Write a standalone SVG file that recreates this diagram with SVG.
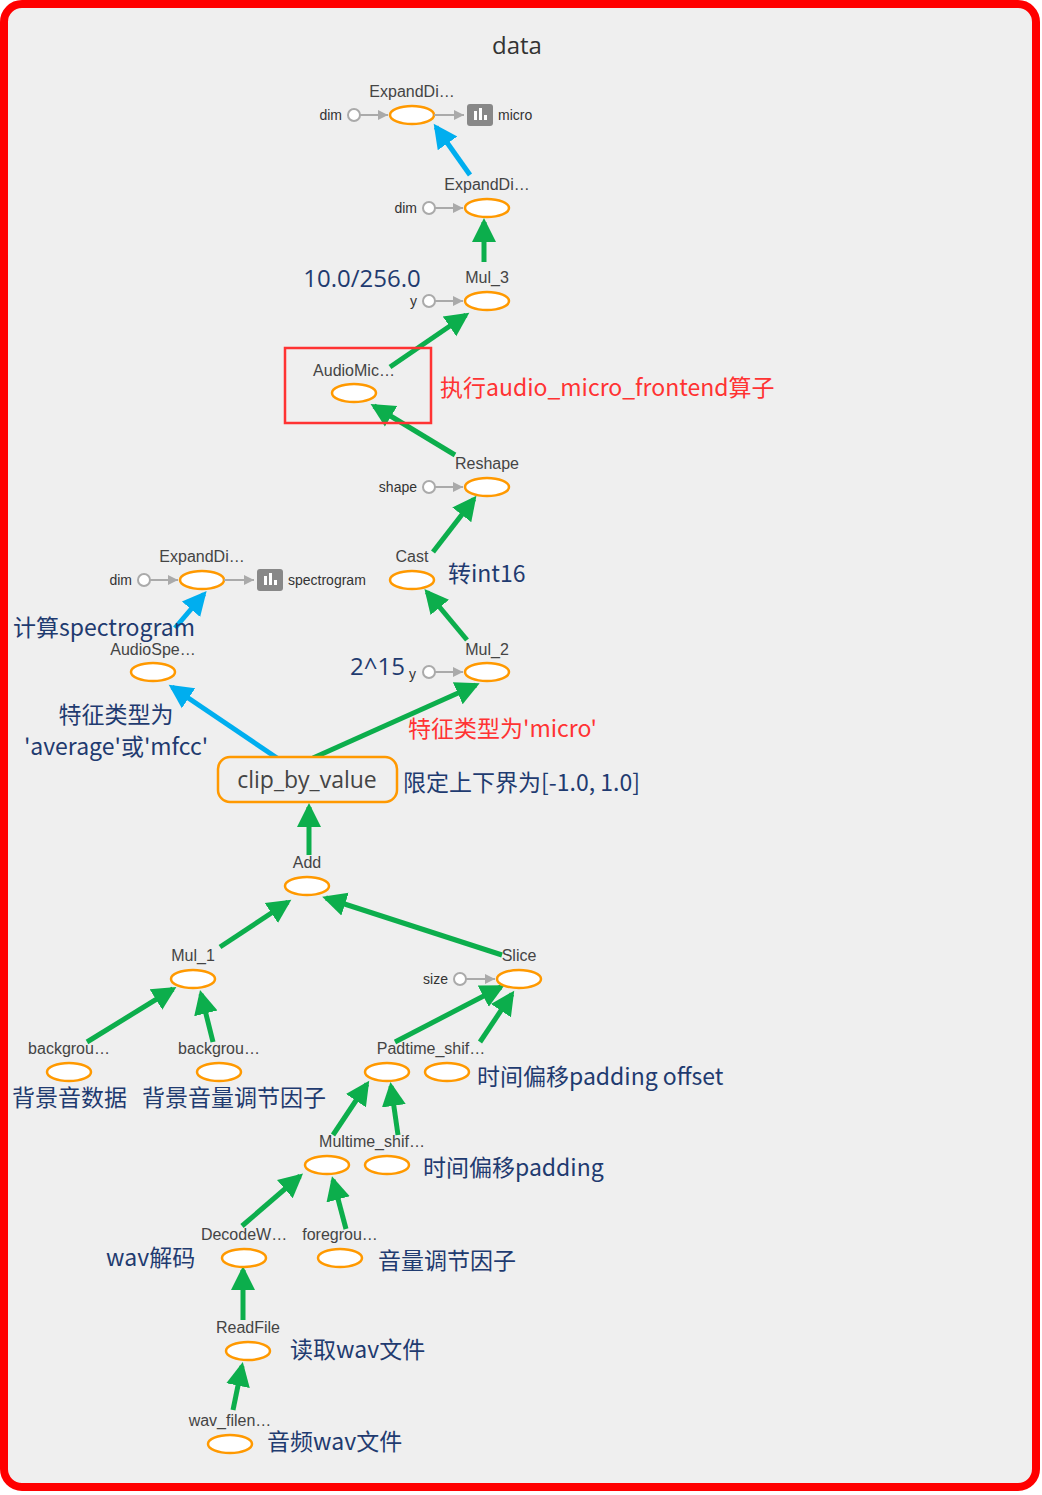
<svg xmlns="http://www.w3.org/2000/svg" width="1042" height="1495" viewBox="0 0 1042 1495">
<style>
text{font-family:"Open Sans","Noto Sans CJK SC",sans-serif}
.lb{font-size:16px;fill:#444;text-anchor:middle;font-family:"Liberation Sans",sans-serif}
.sm{font-size:14px;fill:#333;font-family:"Liberation Sans",sans-serif}
.nd{fill:#fff;stroke:#f90;stroke-width:2.5}
.pc{fill:#fff;stroke:#aaa;stroke-width:2}
.gl{stroke:#aaa;stroke-width:2}
.g{stroke:#0cae4c;stroke-width:5;marker-end:url(#ag)}
.b{stroke:#00aeef;stroke-width:5;marker-end:url(#ab)}
.an{font-size:23px;fill:#1f3b70;font-family:"Noto Sans CJK SC",sans-serif}
.rd{font-size:23px;fill:#f33;font-family:"Noto Sans CJK SC",sans-serif}
</style>
<defs>
<marker id="ag" markerUnits="userSpaceOnUse" markerWidth="30" markerHeight="30" refX="20" refY="12" orient="auto" viewBox="0 0 30 24"><path d="M0,0 L24,12 L0,24 z" fill="#0cae4c"/></marker>
<marker id="ab" markerUnits="userSpaceOnUse" markerWidth="30" markerHeight="30" refX="20" refY="12" orient="auto" viewBox="0 0 30 24"><path d="M0,0 L24,12 L0,24 z" fill="#00aeef"/></marker>
<marker id="as" markerUnits="userSpaceOnUse" markerWidth="12" markerHeight="12" refX="10" refY="5" orient="auto" viewBox="0 0 12 10"><path d="M0,0 L10,5 L0,10 z" fill="#aaa"/></marker>
<g id="bars"><rect x="-13" y="-11" width="26" height="22" rx="3" fill="#888"/><rect x="-6" y="-4" width="3" height="9" fill="#fff"/><rect x="-1" y="-7" width="3" height="12" fill="#fff"/><rect x="4" y="0" width="3" height="5" fill="#fff"/></g>
</defs>
<rect x="4" y="4" width="1032" height="1483" rx="18" fill="#efefef" stroke="#f00" stroke-width="8"/>
<text x="517" y="54" font-size="24" fill="#333" text-anchor="middle" font-family="Liberation Sans, sans-serif">data</text>
<g id="connectors">
<line class="b" x1="470" y1="175" x2="436" y2="127"/>
<line class="g" x1="484" y1="262" x2="484" y2="222"/>
<line class="g" x1="390" y1="367" x2="466" y2="315"/>
<line class="g" x1="455" y1="455" x2="374" y2="406"/>
<line class="g" x1="433" y1="552" x2="474" y2="499"/>
<line class="g" x1="467" y1="640" x2="427" y2="592"/>
<line class="b" x1="175" y1="628" x2="204" y2="594"/>
<line class="b" x1="277" y1="758" x2="172" y2="687"/>
<line class="g" x1="313" y1="758" x2="476" y2="685"/>
<line class="g" x1="309" y1="855" x2="309" y2="807"/>
<line class="g" x1="220" y1="947" x2="288" y2="902"/>
<line class="g" x1="502" y1="955" x2="326" y2="898"/>
<line class="g" x1="87" y1="1042" x2="173" y2="989"/>
<line class="g" x1="213" y1="1042" x2="201" y2="994"/>
<line class="g" x1="395" y1="1042" x2="501" y2="987"/>
<line class="g" x1="480" y1="1042" x2="512" y2="994"/>
<line class="g" x1="333" y1="1135" x2="367" y2="1084"/>
<line class="g" x1="398" y1="1135" x2="391" y2="1086"/>
<line class="g" x1="242" y1="1226" x2="300" y2="1176"/>
<line class="g" x1="346" y1="1229" x2="333" y2="1180"/>
<line class="g" x1="243" y1="1320" x2="243" y2="1270"/>
<line class="g" x1="233" y1="1410" x2="242" y2="1366"/>
</g>
<g id="n-expand1"><text class="lb" x="412" y="97">ExpandDi…</text><circle class="pc" cx="354" cy="115" r="6"/><line class="gl" x1="360" y1="115" x2="388" y2="115" marker-end="url(#as)"/><text class="sm" x="342" y="120" text-anchor="end">dim</text><ellipse class="nd" cx="412" cy="115" rx="22" ry="9"/><line class="gl" x1="434" y1="115" x2="464" y2="115" marker-end="url(#as)"/><use href="#bars" x="480" y="115"/><text class="sm" x="498" y="120">micro</text></g>
<g id="n-expand2"><text class="lb" x="487" y="190">ExpandDi…</text><circle class="pc" cx="429" cy="208" r="6"/><line class="gl" x1="435" y1="208" x2="463" y2="208" marker-end="url(#as)"/><text class="sm" x="417" y="213" text-anchor="end">dim</text><ellipse class="nd" cx="487" cy="208" rx="22" ry="9"/></g>
<g id="n-mul3"><text class="lb" x="487" y="283">Mul_3</text><circle class="pc" cx="429" cy="301" r="6"/><line class="gl" x1="435" y1="301" x2="463" y2="301" marker-end="url(#as)"/><text class="sm" x="417" y="306" text-anchor="end">y</text><ellipse class="nd" cx="487" cy="301" rx="22" ry="9"/><text x="362" y="287" font-size="24" fill="#1f3b70" text-anchor="middle">10.0/256.0</text></g>
<g id="n-audiomic"><rect x="285" y="348" width="146" height="75" fill="none" stroke="#f33" stroke-width="2.5"/><text class="lb" x="354" y="376">AudioMic…</text><ellipse class="nd" cx="354" cy="393" rx="22" ry="9"/><text class="rd" x="440" y="396">执行audio_micro_frontend算子</text></g>
<g id="n-reshape"><text class="lb" x="487" y="469">Reshape</text><circle class="pc" cx="429" cy="487" r="6"/><line class="gl" x1="435" y1="487" x2="463" y2="487" marker-end="url(#as)"/><text class="sm" x="417" y="492" text-anchor="end">shape</text><ellipse class="nd" cx="487" cy="487" rx="22" ry="9"/></g>
<g id="n-cast"><text class="lb" x="412" y="562">Cast</text><ellipse class="nd" cx="412" cy="580" rx="22" ry="9"/><text class="an" x="448" y="582">转int16</text></g>
<g id="n-expand3"><text class="lb" x="202" y="562">ExpandDi…</text><circle class="pc" cx="144" cy="580" r="6"/><line class="gl" x1="150" y1="580" x2="178" y2="580" marker-end="url(#as)"/><text class="sm" x="132" y="585" text-anchor="end">dim</text><ellipse class="nd" cx="202" cy="580" rx="22" ry="9"/><line class="gl" x1="224" y1="580" x2="254" y2="580" marker-end="url(#as)"/><use href="#bars" x="270" y="580"/><text class="sm" x="288" y="585">spectrogram</text></g>
<g id="n-audiospe"><text class="an" x="13" y="636">计算spectrogram</text><text class="lb" x="153" y="655">AudioSpe…</text><ellipse class="nd" cx="153" cy="672" rx="22" ry="9"/><text class="an" x="116" y="723" text-anchor="middle">特征类型为</text><text class="an" x="116" y="755" text-anchor="middle">'average'或'mfcc'</text></g>
<g id="n-mul2"><text class="lb" x="487" y="655">Mul_2</text><circle class="pc" cx="429" cy="672" r="6"/><line class="gl" x1="435" y1="672" x2="463" y2="672" marker-end="url(#as)"/><text x="350" y="675" font-size="24" fill="#1f3b70">2^15</text><text class="sm" x="409" y="679">y</text><ellipse class="nd" cx="487" cy="672" rx="22" ry="9"/><text class="rd" x="408" y="737">特征类型为'micro'</text></g>
<g id="n-clip"><rect x="218" y="757" width="179" height="45" rx="12" fill="#efefef" stroke="#f90" stroke-width="2.5"/><text x="307" y="788" font-size="23" fill="#444" text-anchor="middle" font-family="Liberation Sans, sans-serif">clip_by_value</text><text class="an" x="403" y="791">限定上下界为[-1.0, 1.0]</text></g>
<g id="n-add"><text class="lb" x="307" y="868">Add</text><ellipse class="nd" cx="307" cy="886" rx="22" ry="9"/></g>
<g id="n-mul1"><text class="lb" x="193" y="961">Mul_1</text><ellipse class="nd" cx="193" cy="979" rx="22" ry="9"/></g>
<g id="n-slice"><text class="lb" x="519" y="961">Slice</text><circle class="pc" cx="460" cy="979" r="6"/><line class="gl" x1="466" y1="979" x2="495" y2="979" marker-end="url(#as)"/><text class="sm" x="448" y="984" text-anchor="end">size</text><ellipse class="nd" cx="519" cy="979" rx="22" ry="9"/></g>
<g id="n-bg1"><text class="lb" x="69" y="1054">backgrou…</text><ellipse class="nd" cx="69" cy="1072" rx="22" ry="9"/><text class="an" x="12" y="1106">背景音数据</text></g>
<g id="n-bg2"><text class="lb" x="219" y="1054">backgrou…</text><ellipse class="nd" cx="219" cy="1072" rx="22" ry="9"/><text class="an" x="142" y="1106">背景音量调节因子</text></g>
<g id="n-padtime"><text class="lb" x="431" y="1054">Padtime_shif…</text><ellipse class="nd" cx="387" cy="1072" rx="22" ry="9"/><ellipse class="nd" cx="447" cy="1072" rx="22" ry="9"/><text class="an" x="477" y="1085">时间偏移padding offset</text></g>
<g id="n-multime"><text class="lb" x="372" y="1147">Multime_shif…</text><ellipse class="nd" cx="327" cy="1165" rx="22" ry="9"/><ellipse class="nd" cx="387" cy="1165" rx="22" ry="9"/><text class="an" x="423" y="1176">时间偏移padding</text></g>
<g id="n-decode"><text class="lb" x="244" y="1240">DecodeW…</text><ellipse class="nd" cx="244" cy="1258" rx="22" ry="9"/><text class="an" x="106" y="1266">wav解码</text></g>
<g id="n-fg"><text class="lb" x="340" y="1240">foregrou…</text><ellipse class="nd" cx="340" cy="1258" rx="22" ry="9"/><text class="an" x="378" y="1269">音量调节因子</text></g>
<g id="n-read"><text class="lb" x="248" y="1333">ReadFile</text><ellipse class="nd" cx="248" cy="1351" rx="22" ry="9"/><text class="an" x="290" y="1358">读取wav文件</text></g>
<g id="n-wav"><text class="lb" x="230" y="1426">wav_filen…</text><ellipse class="nd" cx="230" cy="1444" rx="22" ry="9"/><text class="an" x="267" y="1450">音频wav文件</text></g>
</svg>
